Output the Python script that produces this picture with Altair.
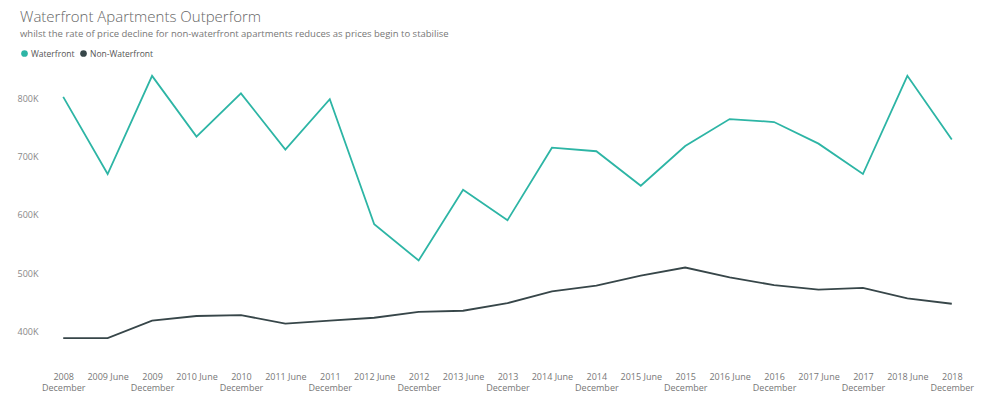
import altair as alt
import pandas as pd

periods = [
    "2008 December", "2009 June", "2009 December", "2010 June", "2010 December",
    "2011 June", "2011 December", "2012 June", "2012 December", "2013 June",
    "2013 December", "2014 June", "2014 December", "2015 June", "2015 December",
    "2016 June", "2016 December", "2017 June", "2017 December", "2018 June",
    "2018 December",
]
waterfront = [802000, 670000, 838000, 734000, 808000, 712000, 798000, 584000,
              522000, 643000, 591000, 715000, 709000, 650000, 718000, 764000,
              759000, 722000, 670000, 838000, 729000]
non_waterfront = [389000, 389000, 419000, 427000, 428500, 414000, 419000, 424000,
                  434000, 436000, 449000, 469000, 479000, 496000, 510000, 493000,
                  480000, 472000, 475000, 457000, 448000]
series_names = ["Waterfront", "Non-Waterfront"]
series_colors = ["#2db5a5", "#374649"]
y_ticks = [400000, 500000, 600000, 700000, 800000]

rows = []
for p, w, n in zip(periods, waterfront, non_waterfront):
    rows.append({"period": p, "series": series_names[0], "value": w})
    rows.append({"period": p, "series": series_names[1], "value": n})
df = pd.DataFrame(rows)

FONT = "Open Sans"

base = alt.Chart(df)

x_enc = alt.X(
    "period:O",
    sort=periods,
    scale=alt.Scale(type="point", padding=0.5),
    axis=alt.Axis(
        title=None, labelAngle=0, domain=False, ticks=False, grid=False,
        labelFont=FONT, labelFontSize=9, labelColor="#777777",
        labelPadding=11, labelLineHeight=11,
        labelExpr="indexof(datum.label, 'December') >= 0 ? split(datum.label, ' ') : datum.label",
    ),
)
y_enc = alt.Y(
    "value:Q",
    scale=alt.Scale(domain=[350000, 860000], nice=False, zero=False),
    axis=alt.Axis(
        title=None, values=y_ticks, domain=False, ticks=False, grid=False,
        labelFont=FONT, labelFontSize=9, labelColor="#888888", labelPadding=3,
        labelExpr="format(datum.value / 1000, 'd') + 'K'",
    ),
)

lines = base.mark_line(strokeWidth=1.8).encode(
    x=x_enc,
    y=y_enc,
    stroke=alt.Stroke(
        "series:N",
        sort=series_names,
        scale=alt.Scale(domain=series_names, range=series_colors),
        legend=None,
    ),
)

legend_layer = base.transform_calculate(
    legend_series="datum.series"
).transform_filter("false").mark_circle(opacity=1, size=40).encode(
    x=alt.X("period:O", sort=periods),
    y=alt.Y("value:Q"),
    fill=alt.Fill(
        "legend_series:N",
        sort=series_names,
        scale=alt.Scale(domain=series_names, range=series_colors),
        legend=alt.Legend(
            title=None, orient="none", direction="horizontal",
            legendX=-21, legendY=-14,
            symbolType="circle", symbolSize=45, symbolOpacity=1,
            labelFont=FONT, labelFontSize=8.5, labelColor="#555555",
            labelOffset=2, columnPadding=4,
        ),
    ),
)

chart = alt.layer(lines, legend_layer).resolve_scale(
    fill="independent", stroke="independent"
).properties(
    width=933,
    height=298,
    padding={"left": 33, "top": 55, "right": 26, "bottom": 50},
    autosize=alt.AutoSizeParams(type="none"),
    title=alt.TitleParams(
        text="Waterfront Apartments Outperform",
        subtitle="whilst the rate of price decline for non-waterfront apartments reduces as prices begin to stabilise",
        anchor="start", frame="group",
        font=FONT, fontSize=15, fontWeight=300, color="#666666",
        subtitleFont=FONT, subtitleFontSize=9.5, subtitleColor="#777777",
        subtitlePadding=4, dx=-21, offset=11,
    ),
).configure_view(stroke=None)

chart.save("out.html", embed_options={"renderer": "svg", "actions": False})
